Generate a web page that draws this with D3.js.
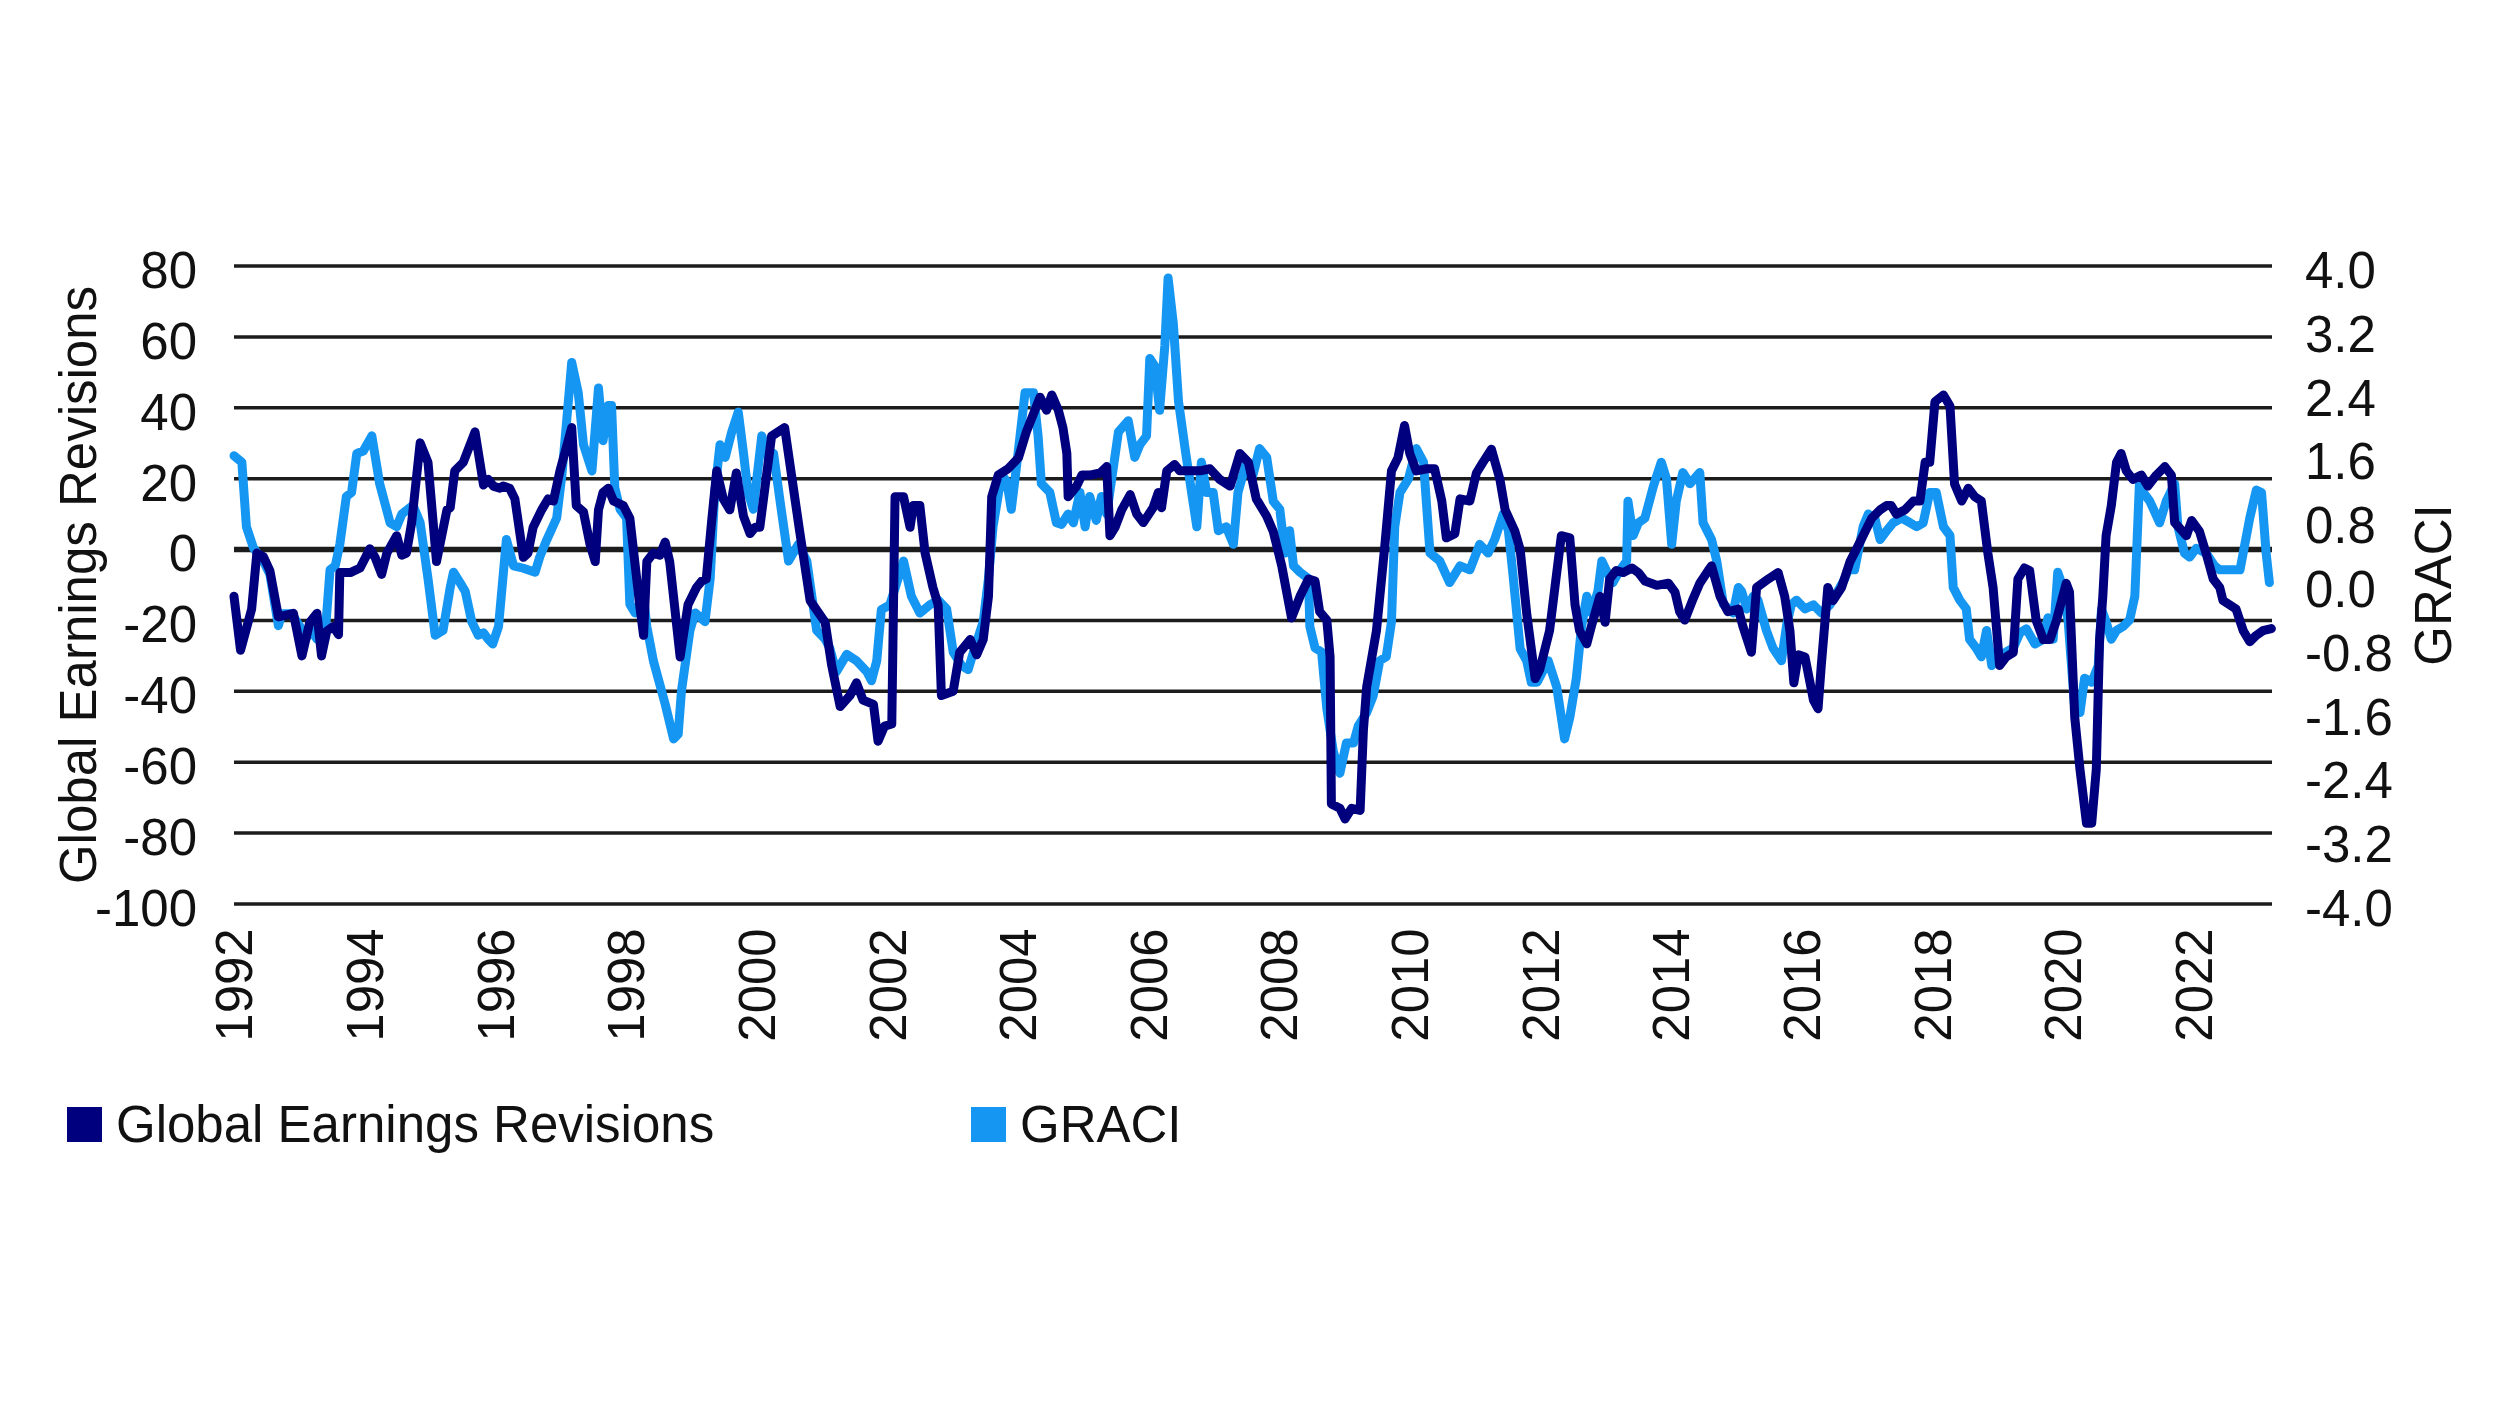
<!DOCTYPE html>
<html>
<head>
<meta charset="utf-8">
<script src="https://cdn.jsdelivr.net/npm/d3@7"></script>
<style>
  html, body { margin: 0; padding: 0; background: #ffffff; }
  svg { display: block; }
  text { font-family: "Liberation Sans", Arial, sans-serif; fill: #111111; }
</style>
</head>
<body>
<svg id="chart" width="2496" height="1404"></svg>
<script>
// ---------- data ----------
const leftTicks = [80, 60, 40, 20, 0, -20, -40, -60, -80, -100];
const rightTicks = [4.0, 3.2, 2.4, 1.6, 0.8, 0.0, -0.8, -1.6, -2.4, -3.2, -4.0];
const yearTicks = [1992, 1994, 1996, 1998, 2000, 2002, 2004, 2006, 2008, 2010, 2012, 2014, 2016, 2018, 2020, 2022];
const seriesNames = ["Global Earnings Revisions", "GRACI"];

const gerDates = [1992.00,1992.10,1992.27,1992.35,1992.45,1992.55,1992.68,1992.91,1993.04,1993.16,1993.27,1993.34,1993.42,1993.52,1993.60,1993.62,1993.78,1993.93,1994.08,1994.16,1994.26,1994.34,1994.49,1994.57,1994.64,1994.72,1994.85,1994.97,1995.10,1995.26,1995.31,1995.38,1995.51,1995.69,1995.82,1995.89,1995.97,1996.07,1996.12,1996.22,1996.30,1996.43,1996.50,1996.58,1996.71,1996.81,1996.89,1996.99,1997.17,1997.24,1997.35,1997.45,1997.53,1997.58,1997.65,1997.73,1997.81,1997.96,1998.06,1998.21,1998.27,1998.32,1998.42,1998.52,1998.60,1998.67,1998.83,1998.95,1999.08,1999.16,1999.23,1999.31,1999.39,1999.49,1999.59,1999.69,1999.80,1999.90,1999.98,2000.05,2000.23,2000.43,2000.66,2000.82,2001.05,2001.15,2001.28,2001.43,2001.53,2001.63,2001.79,2001.86,2001.96,2002.07,2002.12,2002.25,2002.35,2002.40,2002.50,2002.58,2002.70,2002.78,2002.83,2003.01,2003.11,2003.27,2003.37,2003.47,2003.55,2003.60,2003.70,2003.85,2004.01,2004.13,2004.34,2004.44,2004.52,2004.62,2004.69,2004.75,2004.77,2004.90,2004.98,2005.10,2005.26,2005.36,2005.41,2005.49,2005.59,2005.72,2005.82,2005.92,2006.07,2006.15,2006.20,2006.28,2006.40,2006.48,2006.66,2006.79,2006.94,2007.09,2007.25,2007.40,2007.53,2007.65,2007.81,2007.91,2008.04,2008.19,2008.32,2008.45,2008.55,2008.62,2008.73,2008.78,2008.80,2008.93,2009.01,2009.11,2009.24,2009.29,2009.34,2009.49,2009.62,2009.72,2009.82,2009.92,2010.00,2010.10,2010.26,2010.38,2010.49,2010.56,2010.69,2010.77,2010.92,2011.02,2011.12,2011.25,2011.38,2011.46,2011.61,2011.69,2011.79,2011.92,2011.99,2012.14,2012.32,2012.45,2012.53,2012.60,2012.71,2012.78,2012.91,2012.99,2013.06,2013.16,2013.27,2013.40,2013.50,2013.60,2013.78,2013.96,2014.06,2014.13,2014.21,2014.34,2014.44,2014.57,2014.62,2014.75,2014.87,2015.03,2015.10,2015.23,2015.31,2015.49,2015.64,2015.74,2015.82,2015.88,2015.95,2016.05,2016.18,2016.25,2016.30,2016.40,2016.48,2016.61,2016.74,2016.84,2016.94,2017.07,2017.20,2017.30,2017.37,2017.45,2017.58,2017.71,2017.81,2017.89,2017.96,2018.04,2018.17,2018.27,2018.34,2018.45,2018.55,2018.65,2018.75,2018.85,2018.93,2019.03,2019.13,2019.24,2019.31,2019.41,2019.49,2019.59,2019.70,2019.80,2019.90,2020.05,2020.10,2020.18,2020.26,2020.36,2020.44,2020.51,2020.56,2020.61,2020.66,2020.74,2020.82,2020.89,2020.97,2021.07,2021.20,2021.30,2021.43,2021.56,2021.66,2021.71,2021.89,2021.97,2022.09,2022.19,2022.30,2022.40,2022.45,2022.55,2022.65,2022.76,2022.86,2022.96,2023.06,2023.19];
const gerValues = [-13.2,-28.4,-16.8,-1.0,-2,-6,-19,-18,-30,-20.5,-18,-30,-23,-21.7,-24,-6.5,-6.5,-5.2,0.2,-2.2,-7,-1,3.9,-1.6,-1,7.6,30.1,24.6,-3.4,11.2,11.8,22.2,24.6,33.2,18.2,19.8,17.9,17.3,17.9,17.3,14.3,-2.2,-1.0,6.3,11.2,14.3,13.7,22.2,34.4,12.4,10.6,1.5,-3.4,11.2,16.1,17.3,13.7,12.4,8.8,-15.6,-24.2,-3.4,-1.0,-1.6,2.1,-3.4,-30.3,-15.6,-10.7,-8.9,-8.3,7.6,22.2,14.3,11.2,21.6,9.4,4.5,6.3,6.3,32,34.4,5.1,-14.4,-20.5,-32.7,-44.3,-41.2,-37.6,-42.5,-43.7,-54.1,-49.8,-49.2,14.9,14.9,6.3,12.4,12.4,-1.0,-10.7,-15.6,-41.2,-40,-29,-25.4,-29.7,-25.4,-13.2,14.9,21,22.8,25.9,33.2,43.0,39.3,43.6,39.3,34.4,27.1,14.9,17.9,21.0,21.0,21.6,23.4,3.9,6.3,11.2,15.5,10,7.6,11.8,16.1,11.8,22.2,24,22.2,22.2,22.2,22.8,19.8,17.9,27.1,24.6,14.3,9.4,5.1,-4.6,-19.3,-13.2,-8.3,-8.9,-17.5,-19.9,-30.3,-71.8,-73,-76,-73,-73.6,-51,-38.8,-22.9,1.5,22.2,25.9,35,27.1,22.2,22.8,22.8,13.7,3.3,4.5,14.3,13.7,21.6,24.6,28.3,19.8,11.2,5.1,0,-18,-36.4,-33.9,-22.9,3.9,3.3,-15.6,-22.9,-26.6,-21.7,-13.2,-20.5,-8.3,-5.9,-6.5,-5.2,-6.5,-8.9,-10.1,-9.5,-12,-17.5,-19.9,-13.8,-9.5,-5.9,-4.6,-13.2,-17.5,-16.8,-21.7,-29,-10.7,-8.3,-6.5,-13.2,-22.9,-37.6,-29.7,-30.3,-42.5,-44.9,-32.7,-10.7,-14.4,-10.7,-3.4,0.2,3.9,8.8,11.2,12.4,12.4,10,11.2,13.7,13.7,24.6,24.6,41.7,43.6,40.5,18.5,13.7,17.3,14.9,13.7,-1.0,-10.7,-32.7,-30.3,-29,-8.3,-5.2,-5.9,-20,-25.4,-25.4,-20,-9.5,-12,-47.3,-62,-77.2,-77.2,-62,-25.4,-13.2,3.9,12.4,24.6,27.1,22.2,19.8,21,17.9,21,23.4,21,7.6,3.9,8.2,5.1,-1,-8.3,-10.7,-14.4,-15.6,-16.8,-22.9,-26,-24.2,-22.9,-22.3];

const graciDates = [1992.00,1992.12,1992.19,1992.30,1992.45,1992.55,1992.68,1992.73,1992.88,1993.01,1993.09,1993.19,1993.27,1993.32,1993.39,1993.47,1993.55,1993.62,1993.72,1993.80,1993.88,1993.98,1994.11,1994.23,1994.39,1994.49,1994.57,1994.74,1994.85,1994.97,1995.08,1995.20,1995.31,1995.36,1995.46,1995.54,1995.64,1995.74,1995.82,1995.89,1995.96,1996.05,1996.17,1996.28,1996.43,1996.61,1996.68,1996.79,1996.94,1997.02,1997.09,1997.17,1997.27,1997.35,1997.48,1997.58,1997.65,1997.73,1997.78,1997.83,1997.91,1998.01,1998.06,1998.14,1998.27,1998.32,1998.42,1998.60,1998.73,1998.80,1998.85,1998.98,1999.06,1999.21,1999.29,1999.36,1999.44,1999.52,1999.62,1999.72,1999.80,1999.87,1999.95,2000.08,2000.18,2000.26,2000.36,2000.49,2000.64,2000.77,2000.92,2001.05,2001.12,2001.22,2001.38,2001.53,2001.69,2001.76,2001.84,2001.91,2002.04,2002.25,2002.37,2002.50,2002.65,2002.78,2002.91,2003.01,2003.14,2003.24,2003.34,2003.47,2003.55,2003.62,2003.75,2003.83,2003.90,2003.98,2004.11,2004.24,2004.31,2004.36,2004.49,2004.59,2004.67,2004.77,2004.85,2004.95,2005.03,2005.10,2005.20,2005.28,2005.36,2005.54,2005.69,2005.79,2005.87,2005.97,2006.02,2006.10,2006.17,2006.25,2006.30,2006.38,2006.46,2006.56,2006.66,2006.74,2006.81,2006.89,2006.99,2007.07,2007.19,2007.30,2007.37,2007.50,2007.60,2007.70,2007.81,2007.91,2008.01,2008.09,2008.16,2008.22,2008.32,2008.45,2008.47,2008.55,2008.65,2008.73,2008.83,2008.93,2009.03,2009.14,2009.21,2009.34,2009.44,2009.54,2009.64,2009.72,2009.77,2009.85,2009.98,2010.10,2010.21,2010.31,2010.46,2010.61,2010.77,2010.92,2011.07,2011.20,2011.30,2011.43,2011.51,2011.58,2011.69,2011.79,2011.86,2011.95,2012.12,2012.25,2012.37,2012.45,2012.55,2012.63,2012.71,2012.78,2012.88,2012.94,2013.04,2013.11,2013.22,2013.32,2013.34,2013.42,2013.50,2013.60,2013.73,2013.85,2013.93,2014.01,2014.08,2014.18,2014.29,2014.44,2014.49,2014.62,2014.70,2014.80,2014.95,2015.03,2015.08,2015.16,2015.26,2015.33,2015.46,2015.56,2015.69,2015.77,2015.84,2015.92,2016.05,2016.18,2016.30,2016.43,2016.51,2016.66,2016.71,2016.81,2016.94,2017.02,2017.12,2017.20,2017.30,2017.40,2017.53,2017.66,2017.76,2017.86,2017.96,2018.06,2018.17,2018.27,2018.32,2018.42,2018.52,2018.57,2018.67,2018.75,2018.83,2018.91,2019.03,2019.13,2019.24,2019.34,2019.44,2019.57,2019.70,2019.77,2019.85,2019.92,2020.00,2020.08,2020.15,2020.18,2020.26,2020.33,2020.44,2020.54,2020.59,2020.66,2020.74,2020.82,2020.92,2021.02,2021.10,2021.17,2021.23,2021.33,2021.48,2021.58,2021.71,2021.76,2021.86,2021.94,2022.04,2022.19,2022.32,2022.40,2022.53,2022.71,2022.86,2022.96,2023.04,2023.11,2023.16];
const graciValues = [1.62,1.54,0.73,0.46,0.30,0.13,-0.51,-0.36,-0.36,-0.52,-0.68,-0.57,-0.68,-0.46,-0.68,0.19,0.24,0.51,1.11,1.16,1.65,1.68,1.87,1.27,0.78,0.73,0.89,1.0,0.78,0.08,-0.63,-0.57,-0.03,0.16,0.03,-0.08,-0.46,-0.63,-0.60,-0.68,-0.74,-0.52,0.57,0.24,0.21,0.16,0.35,0.57,0.84,1.38,2.03,2.79,2.41,1.76,1.43,2.47,1.81,2.25,2.25,1.22,0.95,0.84,-0.24,-0.35,-0.14,-0.52,-0.95,-1.49,-1.93,-1.87,-1.33,-0.57,-0.35,-0.46,0.08,1.16,1.76,1.60,1.92,2.17,1.65,1.16,0.95,1.87,1.60,1.65,1.05,0.30,0.51,0.30,-0.57,-0.68,-0.79,-1.09,-0.87,-0.95,-1.09,-1.20,-0.95,-0.31,-0.25,0.30,-0.14,-0.35,-0.25,-0.19,-0.30,-0.84,-1.01,-1.06,-0.79,-0.46,0.08,0.73,1.38,1.30,0.95,1.49,2.41,2.41,1.87,1.27,1.16,0.78,0.76,0.89,0.78,1.16,0.73,1.11,0.81,1.11,0.89,1.92,2.06,1.60,1.76,1.87,2.84,2.74,2.19,3.0,3.85,3.28,2.30,1.71,1.16,0.73,1.54,1.16,1.16,0.68,0.73,0.51,1.16,1.54,1.38,1.71,1.60,1.05,0.95,0.40,0.68,0.24,0.16,0.08,-0.52,-0.79,-0.84,-1.55,-2.09,-2.36,-1.98,-1.98,-1.77,-1.60,-1.39,-0.95,-0.90,-0.46,0.73,1.16,1.33,1.71,1.54,0.40,0.30,0.03,0.24,0.19,0.51,0.40,0.57,0.89,0.68,0.13,-0.80,-0.95,-1.22,-1.22,-0.95,-1.28,-1.93,-1.66,-1.17,-0.52,-0.14,-0.35,-0.08,0.30,0.13,0.03,0.19,0.30,1.05,0.62,0.78,0.84,1.24,1.54,1.33,0.51,1.05,1.41,1.27,1.41,0.78,0.57,0.30,-0.24,-0.35,-0.03,-0.08,-0.30,-0.14,-0.19,-0.57,-0.79,-0.95,-0.50,-0.25,-0.19,-0.30,-0.25,-0.35,-0.25,-0.14,0.08,0.19,0.19,0.73,0.89,0.84,0.57,0.68,0.78,0.84,0.78,0.73,0.78,1.16,1.16,0.73,0.62,-0.03,-0.19,-0.30,-0.68,-0.79,-0.90,-0.57,-1.01,-0.90,-0.84,-0.79,-0.60,-0.55,-0.74,-0.68,-0.41,-0.68,0.16,-0.03,-0.46,-1.22,-1.55,-1.60,-1.17,-1.22,-1.01,-0.30,-0.46,-0.68,-0.57,-0.52,-0.44,-0.14,1.27,1.16,1.05,0.78,1.05,1.27,0.73,0.40,0.35,0.46,0.40,0.24,0.19,0.19,0.19,0.84,1.19,1.16,0.40,0.03];

// ---------- layout ----------
const svg = d3.select("#chart");
const plot = { left: 234, right: 2272, top: 266, bottom: 904 };
const colors = { ger: "#00007f", graci: "#1496f2", grid: "#1c1c1c" };
const fontSize = 51;
const lineWidth = 9;

const x = d3.scaleLinear().domain([1992, 2023.2]).range([plot.left, plot.right]);
const yL = d3.scaleLinear().domain([-100, 80]).range([plot.bottom, plot.top]);
const yR = d3.scaleLinear().domain([-4, 4]).range([plot.bottom, plot.top]);

// gridlines
svg.append("g").selectAll("line").data(leftTicks).join("line")
  .attr("x1", plot.left).attr("x2", plot.right)
  .attr("y1", d => yL(d)).attr("y2", d => yL(d))
  .attr("stroke", colors.grid)
  .attr("stroke-width", d => d === 0 ? 5.5 : 3.5);

// left axis
svg.append("g")
  .attr("transform", `translate(${plot.left},0)`)
  .call(d3.axisLeft(yL).tickValues(leftTicks).tickSize(0).tickPadding(37).tickFormat(d => String(d)))
  .call(g => g.select(".domain").remove())
  .selectAll("text").attr("font-size", fontSize).attr("fill", "#111").attr("dy", "0.42em");

// right axis
svg.append("g")
  .attr("transform", `translate(${plot.right},0)`)
  .call(d3.axisRight(yR).tickValues(rightTicks).tickSize(0).tickPadding(33).tickFormat(d => d.toFixed(1)))
  .call(g => g.select(".domain").remove())
  .selectAll("text").attr("font-size", fontSize).attr("fill", "#111").attr("dy", "0.42em");

// bottom axis (rotated year labels)
svg.append("g")
  .attr("transform", `translate(0,${plot.bottom})`)
  .call(d3.axisBottom(x).tickValues(yearTicks).tickSize(0).tickFormat(d => String(d)))
  .call(g => g.select(".domain").remove())
  .selectAll("text")
  .attr("font-size", fontSize)
  .attr("fill", "#111")
  .attr("transform", "rotate(-90)")
  .attr("x", -81).attr("y", 0).attr("dy", "0.35em")
  .style("text-anchor", "middle");

// axis titles
svg.append("text")
  .attr("transform", `translate(96,${(plot.top + plot.bottom) / 2}) rotate(-90)`)
  .attr("text-anchor", "middle").attr("font-size", fontSize)
  .text(seriesNames[0]);
svg.append("text")
  .attr("transform", `translate(2451,${(plot.top + plot.bottom) / 2}) rotate(-90)`)
  .attr("text-anchor", "middle").attr("font-size", fontSize)
  .text(seriesNames[1]);

// lines
const graciData = graciDates.map((d, i) => [d, graciValues[i]]);
const gerData = gerDates.map((d, i) => [d, gerValues[i]]);

svg.append("path").datum(graciData)
  .attr("fill", "none").attr("stroke", colors.graci).attr("stroke-width", lineWidth)
  .attr("stroke-linejoin", "round").attr("stroke-linecap", "round")
  .attr("d", d3.line().x(d => x(d[0])).y(d => yR(d[1])));

svg.append("path").datum(gerData)
  .attr("fill", "none").attr("stroke", colors.ger).attr("stroke-width", lineWidth)
  .attr("stroke-linejoin", "round").attr("stroke-linecap", "round")
  .attr("d", d3.line().x(d => x(d[0])).y(d => yL(d[1])));

// legend
const legend = svg.append("g");
const legendItems = [
  { name: seriesNames[0], color: colors.ger, x: 67 },
  { name: seriesNames[1], color: colors.graci, x: 971 }
];
legendItems.forEach(it => {
  legend.append("rect").attr("x", it.x).attr("y", 1107).attr("width", 35).attr("height", 35).attr("fill", it.color);
  legend.append("text").attr("x", it.x + 49).attr("y", 1142).attr("font-size", fontSize).text(it.name);
});
</script>
</body>
</html>
